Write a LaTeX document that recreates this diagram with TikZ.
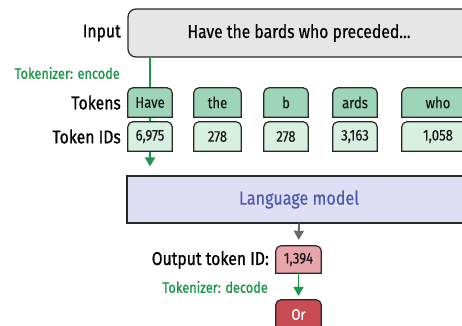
\documentclass[tikz,border=0pt]{standalone}
\usepackage{fontspec}
\setmainfont{Fira Sans}[FakeStretch=0.85, FakeBold=0.3]
\newfontfamily\medfont{Fira Sans}[FakeStretch=0.85, FakeBold=0.9]
\usetikzlibrary{arrows.meta,backgrounds,calc}

\definecolor{edge}{RGB}{40,40,40}
\definecolor{inpfill}{RGB}{230,230,230}
\definecolor{tokfill}{RGB}{158,212,184}
\definecolor{idfill}{RGB}{216,240,226}
\definecolor{encgreen}{RGB}{28,150,72}
\definecolor{lmfill}{RGB}{222,223,245}
\definecolor{lmtext}{RGB}{76,92,172}
\definecolor{outfill}{RGB}{232,166,170}
\definecolor{orfill}{RGB}{200,76,82}
\definecolor{arrgray}{RGB}{105,105,105}

% box with rounded top corners and square bottom corners, drawn behind a node
\newcommand\roundtop[2]{%
  \path[boxline, fill=#2] (#1.south west) -- ([yshift=-5pt]#1.north west)
    arc[start angle=180, end angle=90, radius=5pt]
    -- ([xshift=-5pt]#1.north east)
    arc[start angle=90, end angle=0, radius=5pt]
    -- (#1.south east) -- cycle;}

\begin{document}
\begin{tikzpicture}[x=1pt, y=1pt,
  boxline/.style={draw=edge, line width=1.2pt},
  lbl/.style={anchor=east, inner sep=0pt, font=\medfont\fontsize{18.5}{20}\selectfont, text=black},
  enc/.style={anchor=east, inner sep=0pt, font=\medfont\fontsize{15}{16}\selectfont, text=encgreen},
  tok/.style={inner sep=0pt, minimum height=29pt, font=\fontsize{15.5}{17}\selectfont, text=black!90},
  greenarrow/.style={draw=encgreen, line width=1.8pt, -{Triangle[width=10pt,length=9pt]}, encgreen},
  grayarrow/.style={draw=arrgray, line width=1.8pt, -{Triangle[width=10pt,length=9pt]}, arrgray}]

\useasboundingbox (0,0) rectangle (462,-325);
\clip (0,0) rectangle (462,-325);

% input sentence
\node[boxline, fill=inpfill, rounded corners=8pt, minimum width=342pt, minimum height=48pt,
      font=\fontsize{18.5}{20}\selectfont] (inp) at (299,-33) {Have the bards who preceded...};
\node[lbl] (linput) at (121,-33) {Input};
\node[enc] (lenc) at (120,-73) {Tokenizer: encode};

% tokens and token ids
\node[tok, minimum width=44pt] (tHave) at (150,-102.5) {Have};
\node[tok, minimum width=47pt] (tThe)  at (217.5,-102.5) {the};
\node[tok, minimum width=44pt] (tB)    at (286,-102.5) {b};
\node[tok, minimum width=44pt] (tArds) at (355,-102.5) {ards};
\node[tok, minimum width=72pt] (tWho)  at (438,-102.5) {who};

\node[tok, minimum width=44pt] (iHave) at (150,-136.5) {6,975};
\node[tok, minimum width=47pt] (iThe)  at (217.5,-136.5) {278};
\node[tok, minimum width=44pt] (iB)    at (286,-136.5) {278};
\node[tok, minimum width=44pt] (iArds) at (355,-136.5) {3,163};
\node[tok, minimum width=72pt] (iWho)  at (438,-136.5) {1,058};

\node[lbl] (ltok) at (121,-102.5) {Tokens};
\node[lbl] (lids) at (121,-136.5) {Token IDs};

% model
\node[boxline, fill=lmfill, minimum width=344pt, minimum height=47pt,
      font=\fontsize{19}{20}\selectfont, text=lmtext] (lm) at (299,-199.5) {Language model};

% output
\node[tok, minimum width=45pt, minimum height=27pt] (out) at (298.5,-259.5) {1,394};
\node[lbl] (lout) at (269,-260) {Output token ID:};
\node[enc] (ldec) at (268,-287) {Tokenizer: decode};
\node[tok, minimum width=45pt, text=white] (orn) at (298.5,-314.5) {Or};

% connectors
\draw[grayarrow, shorten >=6pt] (lm.south) -- (out.north);
\draw[greenarrow, shorten >=4pt] (out.south) -- (orn.north);

\begin{pgfonlayer}{background}
  \clip (0,0) rectangle (462,-325);
  \draw[greenarrow, shorten >=9pt] (inp.south -| tHave.center) -- (lm.north -| tHave.center);
  \foreach \n in {tHave,tThe,tB,tArds,tWho} {\roundtop{\n}{tokfill}}
  \foreach \n in {iHave,iThe,iB,iArds,iWho} {\roundtop{\n}{idfill}}
  \roundtop{out}{outfill}
  \roundtop{orn}{orfill}
\end{pgfonlayer}
\end{tikzpicture}
\end{document}
